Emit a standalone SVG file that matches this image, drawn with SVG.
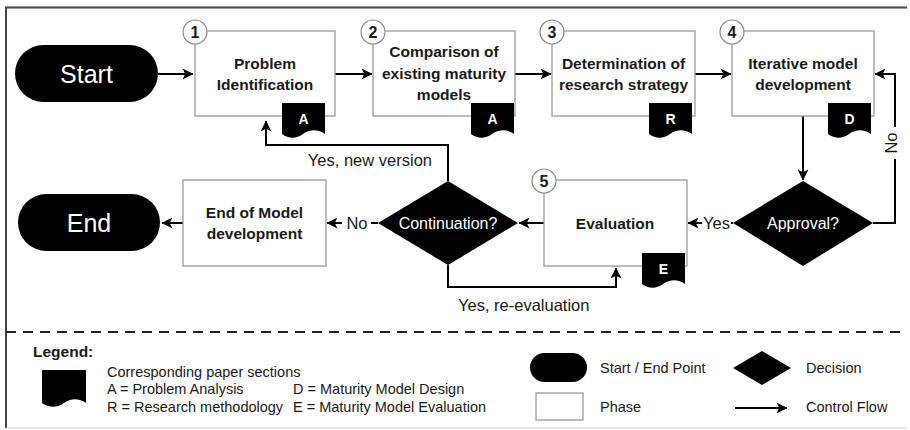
<svg xmlns="http://www.w3.org/2000/svg" width="910" height="430" viewBox="0 0 910 430">
<style>
text{font-family:"Liberation Sans",Arial,sans-serif;fill:#1a1a1a}
.box{fill:#fff;stroke:#9a9a9a;stroke-width:1.3}
.pill{fill:#000}
.dia{fill:#000}
.doc{fill:#000}
.bt{font-size:15.5px;font-weight:bold;text-anchor:middle}
.wt{fill:#fff;text-anchor:middle}
.num{fill:#fff;stroke:#8a8a8a;stroke-width:1.2}
.nt{font-size:16px;font-weight:bold;text-anchor:middle}
.dl{fill:#fff;font-size:14px;font-weight:bold;text-anchor:middle}
.con{fill:none;stroke:#000;stroke-width:2}
.lbl{font-size:16.5px}
.lg{font-size:14.5px}
</style>
<defs>
<marker id="ah" viewBox="0 0 10 10" markerWidth="6" markerHeight="5.5" refX="9.5" refY="5" orient="auto" markerUnits="strokeWidth">
<path d="M0,0 L10,5 L0,10 L2.5,5 z" fill="#000"/>
</marker>
</defs>
<rect x="0" y="0" width="910" height="430" fill="#fff"/>
<!-- frame -->
<line x1="5" y1="7.5" x2="907" y2="7.5" stroke="#444" stroke-width="2"/>
<line x1="6" y1="7" x2="6" y2="428" stroke="#444" stroke-width="2"/>
<line x1="6" y1="428" x2="907" y2="428" stroke="#ccc" stroke-width="1"/>
<line x1="6" y1="332" x2="905" y2="332" stroke="#222" stroke-width="2" stroke-dasharray="10,7"/>

<g id="connectors">
<path class="con" d="M158,74 H193" marker-end="url(#ah)"/>
<path class="con" d="M335,74 H372" marker-end="url(#ah)"/>
<path class="con" d="M515,74 H551" marker-end="url(#ah)"/>
<path class="con" d="M695,74 H731" marker-end="url(#ah)"/>
<path class="con" d="M803,116 V180" marker-end="url(#ah)"/>
<path class="con" d="M873,223 H895 V74 H875" marker-end="url(#ah)"/>
<path class="con" d="M733,223 H688" marker-end="url(#ah)"/>
<path class="con" d="M544,223 H519" marker-end="url(#ah)"/>
<path class="con" d="M378,223 H327" marker-end="url(#ah)"/>
<path class="con" d="M183,223 H162" marker-end="url(#ah)"/>
<path class="con" d="M448,181 V145 H266 V121" marker-end="url(#ah)"/>
<path class="con" d="M448,265 V287 H616 V268" marker-end="url(#ah)"/>
<rect x="884" y="127" width="16" height="32" fill="#fff"/>
<text class="lbl" transform="translate(897,143) rotate(-90)" text-anchor="middle">No</text>
<rect x="702" y="213" width="29" height="20" fill="#fff"/>
<text class="lbl" x="716.5" y="229" text-anchor="middle">Yes</text>
<rect x="342" y="213" width="29" height="20" fill="#fff"/>
<text class="lbl" x="357" y="229" text-anchor="middle">No</text>
<text class="lbl" x="432" y="166" text-anchor="end">Yes, new version</text>
<text class="lbl" x="458" y="311">Yes, re-evaluation</text>
</g>

<g id="start">
<rect class="pill" x="15" y="45" width="143" height="57" rx="28.5"/>
<text class="wt" x="86.5" y="83" font-size="25">Start</text>
</g>

<g id="phase1">
<rect class="box" x="195" y="31" width="140" height="85"/>
<text class="bt" x="265" y="69">Problem</text>
<text class="bt" x="265" y="90">Identification</text>
<path class="doc" d="M282,103 H325 V134 C318,129 310,129 303,134 C296,139 289,139 282,134 Z"/>
<text class="dl" x="303.5" y="124">A</text>
<circle class="num" cx="195" cy="32" r="12"/>
<text class="nt" x="195" y="38">1</text>
</g>

<g id="phase2">
<rect class="box" x="373" y="31" width="142" height="85"/>
<text class="bt" x="444" y="57">Comparison of</text>
<text class="bt" x="444" y="79">existing maturity</text>
<text class="bt" x="444" y="100">models</text>
<path class="doc" d="M471,103 H514 V134 C507,129 499,129 492,134 C485,139 478,139 471,134 Z"/>
<text class="dl" x="492.5" y="124">A</text>
<circle class="num" cx="373" cy="32" r="12"/>
<text class="nt" x="373" y="38">2</text>
</g>

<g id="phase3">
<rect class="box" x="552" y="31" width="143" height="85"/>
<text class="bt" x="623.5" y="69">Determination of</text>
<text class="bt" x="623.5" y="90">research strategy</text>
<path class="doc" d="M649,103 H692 V134 C685,129 677,129 670,134 C663,139 656,139 649,134 Z"/>
<text class="dl" x="670.5" y="124">R</text>
<circle class="num" cx="552" cy="32" r="12"/>
<text class="nt" x="552" y="38">3</text>
</g>

<g id="phase4">
<rect class="box" x="732" y="31" width="142" height="85"/>
<text class="bt" x="803" y="69">Iterative model</text>
<text class="bt" x="803" y="90">development</text>
<path class="doc" d="M828,103 H871 V134 C864,129 856,129 849,134 C842,139 835,139 828,134 Z"/>
<text class="dl" x="849.5" y="124">D</text>
<circle class="num" cx="732" cy="32" r="12"/>
<text class="nt" x="732" y="38">4</text>
</g>

<g id="approval">
<polygon class="dia" points="803,181 873,223 803,266 733,223"/>
<text class="wt" x="803" y="229" font-size="16">Approval?</text>
</g>

<g id="phase5">
<rect class="box" x="544" y="180" width="143" height="86"/>
<text class="bt" x="615" y="229">Evaluation</text>
<path class="doc" d="M642,253 H685 V284 C678,279 670,279 663,284 C656,289 649,289 642,284 Z"/>
<text class="dl" x="663.5" y="274">E</text>
<circle class="num" cx="544" cy="181" r="12"/>
<text class="nt" x="544" y="187">5</text>
</g>

<g id="continuation">
<polygon class="dia" points="448,181 518,223 448,265 378,223"/>
<text class="wt" x="448" y="229" font-size="16">Continuation?</text>
</g>

<g id="endphase">
<rect class="box" x="183" y="180" width="143" height="86"/>
<text class="bt" x="254.5" y="218">End of Model</text>
<text class="bt" x="254.5" y="239">development</text>
</g>

<g id="end">
<rect class="pill" x="18" y="194" width="142" height="57" rx="28.5"/>
<text class="wt" x="89" y="232" font-size="25">End</text>
</g>

<g id="legend">
<text x="33" y="357" font-size="15.5" font-weight="bold">Legend:</text>
<path class="doc" d="M42,370 H86 V403 C79,398 71,398 64,403 C57,408 49,408 42,403 Z"/>
<text class="lg" x="107" y="377">Corresponding paper sections</text>
<text class="lg" x="107" y="394">A = Problem Analysis</text>
<text class="lg" x="107" y="412">R = Research methodology</text>
<text class="lg" x="293" y="394">D = Maturity Model Design</text>
<text class="lg" x="293" y="412">E = Maturity Model Evaluation</text>
<rect class="pill" x="530" y="353" width="57" height="29" rx="14.5"/>
<text class="lg" x="600" y="373">Start / End Point</text>
<rect class="box" x="536" y="393" width="47" height="27"/>
<text class="lg" x="600" y="412">Phase</text>
<polygon class="dia" points="762,351 791,368 762,385 733,368"/>
<text class="lg" x="806" y="373">Decision</text>
<path class="con" d="M735,408 H787" marker-end="url(#ah)"/>
<text class="lg" x="806" y="412">Control Flow</text>
</g>
</svg>
